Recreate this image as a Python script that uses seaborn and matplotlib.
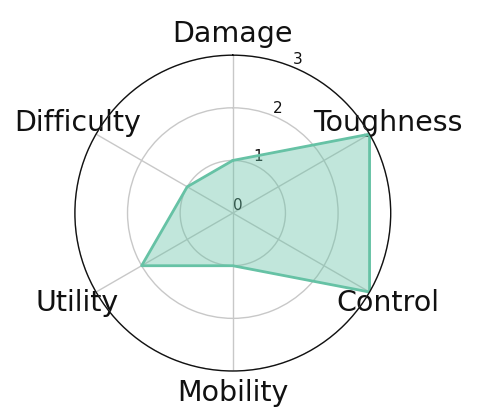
import numpy as np
import matplotlib
matplotlib.use("Agg")
import matplotlib.pyplot as plt
import seaborn as sns

# ===== data =====
categories = ["Damage", "Toughness", "Control", "Mobility", "Utility", "Difficulty"]
values = [1, 3, 3, 1, 2, 1]
r_ticks = [0, 1, 2, 3]

sns.set_style("white")
plt.rcParams["font.family"] = ["DejaVu Sans"]
color = sns.color_palette("Set2")[0]

angles = np.linspace(0, 2 * np.pi, len(categories), endpoint=False).tolist()
vals = values + values[:1]
angs = angles + angles[:1]

fig = plt.figure(figsize=(4.8, 4.17), dpi=100)
ax = fig.add_axes([0.156, 0.110, 0.658, 0.758], polar=True)
ax.set_theta_offset(np.pi / 2)
ax.set_theta_direction(-1)

ax.plot(angs, vals, color=color, linewidth=2)
ax.fill(angs, vals, color=color, alpha=0.4)

ax.set_xticks(angles)
ax.set_xticklabels(categories, fontsize=20.5, color="#111111")
ax.tick_params(axis="x", pad=5)
ax.set_ylim(0, 3)
ax.set_yticks(r_ticks)
ax.set_yticklabels([str(t) for t in r_ticks], fontsize=11, color="#111111")
ax.grid(True, color="#c8c8c8", linewidth=1)
ax.spines["polar"].set_color("#111111")
ax.spines["polar"].set_linewidth(1)

fig.savefig("out.png", dpi=100)
